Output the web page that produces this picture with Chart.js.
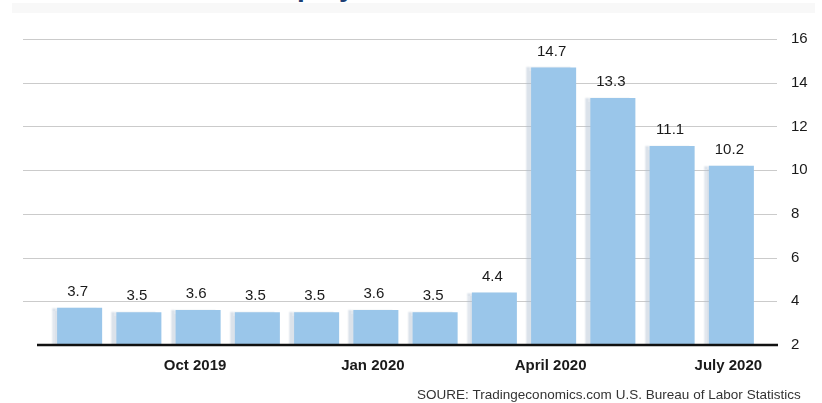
<!DOCTYPE html>
<html>
<head>
<meta charset="utf-8">
<script src="https://cdn.jsdelivr.net/npm/chart.js@4.4.1/dist/chart.umd.min.js"></script>
<style>
  html, body { margin: 0; padding: 0; background: #ffffff; }
  body { width: 822px; height: 403px; position: relative; overflow: hidden; font-family: "Liberation Sans", Arial, sans-serif; }
  #band { position: absolute; left: 12px; top: 3px; width: 803px; height: 10px; background: #f8f8f8; }
  #title { position: absolute; top: -27px; left: 200px; font: bold 28px "Liberation Sans", Arial, sans-serif; line-height: 28px; color: #1d3f74; white-space: nowrap; }
  #wrap { position: absolute; left: 0; top: 0; width: 822px; height: 403px; }
  #source { position: absolute; left: 417px; top: 387px; font-size: 13.5px; color: #333; white-space: nowrap; letter-spacing: 0.02px; }
</style>
</head>
<body>
<div id="band"></div>
<div id="title">U.S. Unemployment Rate</div>
<div id="wrap"><canvas id="chart" width="822" height="403"></canvas></div>
<div id="source">SOURE: Tradingeconomics.com U.S. Bureau of Labor Statistics</div>
<script>
// Monthly unemployment rate, %
const months = ["Aug 2019", "Sep 2019", "Oct 2019", "Nov 2019", "Dec 2019", "Jan 2020",
                "Feb 2020", "Mar 2020", "April 2020", "May 2020", "June 2020", "July 2020"];
const rates = [3.7, 3.5, 3.6, 3.5, 3.5, 3.6, 3.5, 4.4, 14.7, 13.3, 11.1, 10.2];
const shownMonths = ["Oct 2019", "Jan 2020", "April 2020", "July 2020"];
const yTicks = [2, 4, 6, 8, 10, 12, 14, 16];

// place the headline so its "p" sits where the layout wants it
(function () {
  const c = document.createElement("canvas").getContext("2d");
  c.font = 'bold 28px "Liberation Sans", Arial, sans-serif';
  const w = c.measureText("U.S. Unem").width;
  document.getElementById("title").style.left = (297 - w) + "px";
})();

// horizontal grid lines, wider than the plotting area
const gridPlugin = {
  id: "wideGrid",
  beforeDatasetsDraw(chart) {
    const { ctx, chartArea, scales } = chart;
    ctx.save();
    ctx.strokeStyle = "#cbcbcb";
    ctx.lineWidth = 1;
    yTicks.forEach(v => {
      if (v === yTicks[0]) return;
      const y = Math.round(scales.y.getPixelForValue(v)) + 0.5;
      ctx.beginPath();
      ctx.moveTo(chartArea.left - 27, y);
      ctx.lineTo(chartArea.right + 16, y);
      ctx.stroke();
    });
    ctx.restore();
    // faint shadow to the left of each bar
    ctx.save();
    ctx.shadowColor = "rgba(175,190,208,0.45)";
    ctx.shadowOffsetX = -5;
    ctx.shadowOffsetY = 0;
    ctx.shadowBlur = 1.5;
  },
  afterDatasetsDraw(chart) {
    const { ctx, chartArea, scales } = chart;
    ctx.restore();
    // baseline
    ctx.save();
    const y0 = scales.y.getPixelForValue(yTicks[0]);
    ctx.strokeStyle = "#111";
    ctx.lineWidth = 2.5;
    ctx.beginPath();
    ctx.moveTo(chartArea.left - 13, y0);
    ctx.lineTo(chartArea.right + 17, y0);
    ctx.stroke();
    // value labels
    const meta = chart.getDatasetMeta(0);
    ctx.fillStyle = "#1a1a1a";
    ctx.font = '15px "Liberation Sans", Arial, sans-serif';
    ctx.textAlign = "center";
    ctx.textBaseline = "middle";
    meta.data.forEach((bar, i) => {
      ctx.fillText(rates[i].toFixed(1), bar.x - 2, bar.y - 16);
    });
    ctx.restore();
  }
};

new Chart(document.getElementById("chart"), {
  type: "bar",
  data: {
    labels: months,
    datasets: [{
      data: rates,
      backgroundColor: "#9ac6ea",
      borderWidth: 0,
      categoryPercentage: 1.0,
      barPercentage: 0.76
    }]
  },
  options: {
    responsive: false,
    animation: false,
    events: [],
    layout: { padding: { top: 39, bottom: 28, left: 50, right: 0 } },
    plugins: { legend: { display: false }, tooltip: { enabled: false }, title: { display: false } },
    scales: {
      x: {
        grid: { display: false },
        border: { display: false },
        afterFit: s => { s.height = 30; },
        ticks: {
          autoSkip: false,
          maxRotation: 0,
          padding: 4,
          labelOffset: -3,
          color: "#1a1a1a",
          font: { family: '"Liberation Sans", Arial, sans-serif', size: 15, weight: "bold" },
          callback: function (value) {
            const lab = this.getLabelForValue(value);
            return shownMonths.includes(lab) ? lab : "";
          }
        }
      },
      y: {
        position: "right",
        min: yTicks[0],
        max: yTicks[yTicks.length - 1],
        grid: { display: false },
        border: { display: false },
        afterFit: s => { s.width = 61; },
        afterBuildTicks: s => { s.ticks = yTicks.map(v => ({ value: v })); },
        ticks: {
          padding: 22,
          color: "#1a1a1a",
          font: { family: '"Liberation Sans", Arial, sans-serif', size: 15 }
        }
      }
    }
  },
  plugins: [gridPlugin]
});
</script>
</body>
</html>
